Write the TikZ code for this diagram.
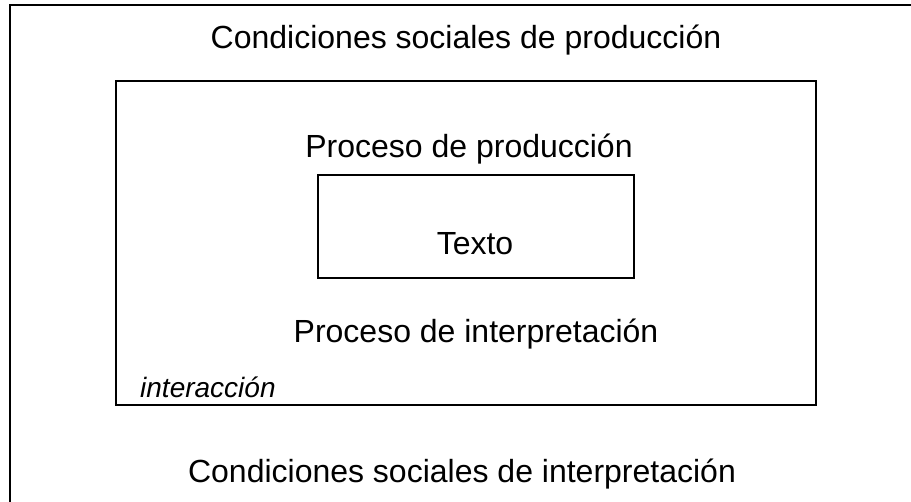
\documentclass[tikz,border=0pt]{standalone}
\usepackage{fontspec}
\setmainfont{Liberation Sans}
\begin{document}
\begin{tikzpicture}[x=1pt,y=-1pt,
  lbl/.style={anchor=base,inner sep=0pt,font=\fontsize{32}{34}\selectfont},
  small/.style={anchor=base west,inner sep=0pt,font=\fontsize{28}{30}\selectfont\itshape},
  boxline/.style={draw=black,line width=1.5pt}]
\useasboundingbox (0,0) rectangle (911,502);
\fill[white] (0,0) rectangle (911,502);
% outer frame (cropped at right and bottom)
\coordinate (otl) at (10,5);
\coordinate (otr) at (913,5);
\coordinate (obl) at (10,504);
\draw[line width=2.2pt] (obl) -- (otl) -- (otr);
% inner box
\node[boxline,minimum width=700pt,minimum height=324pt,inner sep=0pt] (inner) at (466,243) {};
% text box
\node[boxline,line width=1.3pt,minimum width=316pt,minimum height=103pt,inner sep=0pt] (texto) at (476,226.5) {};
\node[lbl] (csp) at (466,49) {Condiciones sociales de producción};
\node[lbl] (pp) at (469,158) {Proceso de producción};
\node[lbl] (tx) at (475,255) {Texto};
\node[lbl] (pi) at (476,343) {Proceso de interpretación};
\node[small] (inter) at (140,398) {interacción};
\node[lbl] (csi) at (462,483) {Condiciones sociales de interpretación};
\end{tikzpicture}
\end{document}
